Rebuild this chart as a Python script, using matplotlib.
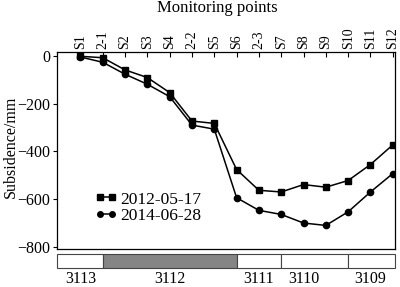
import matplotlib
matplotlib.use("Agg")
import matplotlib.pyplot as plt
from matplotlib.lines import Line2D

plt.rcParams['font.family'] = ['Liberation Serif', 'DejaVu Serif']

# monitoring points along the line
points = ['S1', '2-1', 'S2', 'S3', 'S4', '2-2', 'S5', 'S6', '2-3',
          'S7', 'S8', 'S9', 'S10', 'S11', 'S12']

# subsidence (mm)
sub_2012 = [-2, -8, -59, -91, -154, -273, -283, -476, -563,
            -570, -539, -550, -522, -455, -373]
sub_2014 = [-5, -27, -77, -119, -171, -290, -307, -594, -647,
            -664, -700, -710, -653, -570, -493]

# working faces under the line (boundaries given as point index)
panels = ['3113', '3112', '3111', '3110', '3109']
panel_bounds = [1, 7, 9, 12]
panel_mined = [False, True, False, False, False]
panel_label_pos = [0, 4, 8, 10, 13]

x = list(range(len(points)))
xlim = (-1.05, 14.1)

fig = plt.figure(figsize=(4, 2.87), dpi=100)
ax = fig.add_axes([0.1425, 0.133, 0.845, 0.685])

ax.plot(x, sub_2012, color='black', lw=1.1, marker='s', ms=4.5)
ax.plot(x, sub_2014, color='black', lw=1.1, marker='o', ms=4.5)

ax.set_xlim(*xlim)
ax.set_ylim(-808, 15)
ax.set_yticks([0, -200, -400, -600, -800])
ax.set_yticklabels(['0', '\u2212200', '\u2212400', '\u2212600', '\u2212800'])
ax.tick_params(axis='y', direction='out', length=3, labelsize=11.5, width=0.8, pad=2)

ax.xaxis.tick_top()
ax.set_xticks(x)
ax.set_xticklabels(points, rotation=90, fontsize=10)
ax.tick_params(axis='x', direction='in', length=3.5, width=0.8, pad=2)

for s in ax.spines.values():
    s.set_linewidth(0.9)

ax.set_ylabel('Subsidence/mm', fontsize=11.5)
ax.yaxis.set_label_coords(-0.112, 0.52)
fig.text(0.543, 0.972, 'Monitoring points', ha='center', va='center', fontsize=12)

handles = [
    Line2D([], [], color='black', lw=1.1, marker='s', ms=4, markevery=[0]),
    Line2D([], [], color='black', lw=1.1, marker='o', ms=4, markevery=[0]),
]
ax.legend(handles, ['2012-05-17', '2014-06-28'], loc='lower left',
          bbox_to_anchor=(0.08, 0.075), frameon=False, fontsize=12.5,
          numpoints=2, handlelength=1.3, handletextpad=0.2,
          labelspacing=0.0, borderpad=0.1)

# panel strip below the chart
band = fig.add_axes([0.1425, 0.066, 0.845, 0.049])
edges = [xlim[0]] + panel_bounds + [xlim[1]]
for i, name in enumerate(panels):
    band.barh(0, edges[i + 1] - edges[i], left=edges[i], height=1,
              color='#858585' if panel_mined[i] else 'white',
              edgecolor='#444444', linewidth=0.8, clip_on=False)
band.set_xlim(*xlim)
band.set_ylim(-0.5, 0.5)
band.axis('off')

for name, pos in zip(panels, panel_label_pos):
    band.text(pos, -1.25, name, ha='center', va='center', fontsize=11.5)

fig.savefig('out.png', dpi=100)
